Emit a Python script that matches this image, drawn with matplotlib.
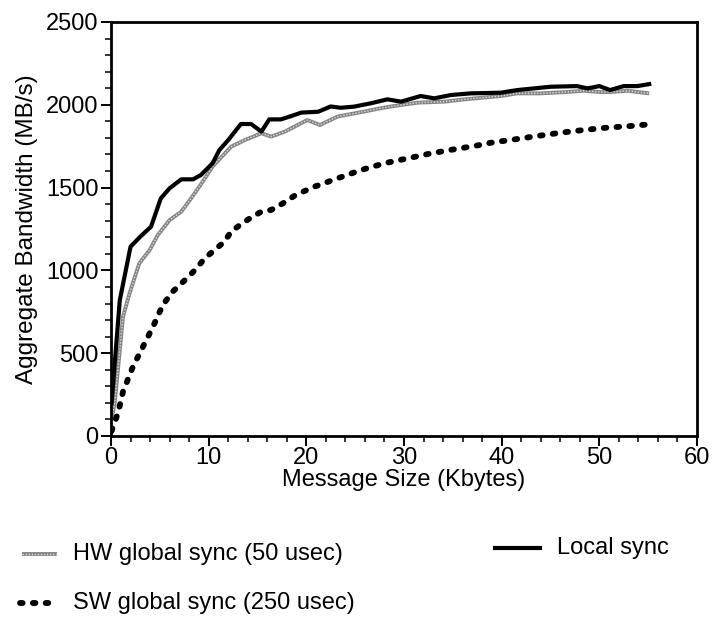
import matplotlib
matplotlib.use("Agg")
import matplotlib.pyplot as plt
from matplotlib.lines import Line2D
from matplotlib.ticker import MultipleLocator

plt.rcParams['font.family'] = ['Liberation Sans', 'DejaVu Sans']

# ---- data ----
x_local = [0.06, 0.9, 2.0, 3.0, 4.1, 5.1, 6.0, 7.2, 8.4, 9.2, 10.4, 11.1, 12.0, 13.3,
           14.35, 15.4, 16.2, 17.4, 18.3, 19.5, 21.2, 22.5, 23.5, 24.9, 26.6, 28.3,
           29.7, 31.7, 33.1, 34.8, 36.8, 39.9, 41.6, 45.0, 47.7, 48.8, 50.0, 51.1,
           52.5, 53.9, 55.1]
y_local = [200, 820, 1143, 1204, 1264, 1435, 1496, 1550, 1550, 1576, 1647, 1727, 1787,
           1884, 1884, 1838, 1912, 1912, 1929, 1953, 1958, 1990, 1982, 1989, 2009, 2033,
           2019, 2053, 2039, 2059, 2069, 2073, 2089, 2109, 2113, 2099, 2113, 2089, 2113,
           2113, 2125]

x_hw = [0.06, 0.38, 1.23, 1.9, 2.9, 3.96, 4.8, 6.0, 7.2, 8.2, 9.4, 10.4, 12.3, 13.7,
        15.4, 16.4, 17.8, 20.1, 21.4, 23.2, 25.9, 27.6, 29.0, 31.4, 34.1, 36.2, 39.9,
        41.6, 43.9, 46.6, 48.4, 50.1, 51.1, 52.9, 55.1]
y_hw = [100, 199, 720, 862, 1043, 1123, 1214, 1304, 1355, 1435, 1536, 1627, 1747, 1787,
        1828, 1808, 1838, 1908, 1878, 1929, 1959, 1979, 1993, 2013, 2019, 2033, 2053,
        2069, 2069, 2077, 2085, 2077, 2077, 2085, 2069]

x_sw = [0.06, 0.2, 0.72, 1.23, 2.25, 3.27, 4.3, 5.3, 6.3, 7.4, 8.6, 9.6, 10.6, 11.6,
        12.3, 13.2, 14.2, 15.4, 16.4, 17.6, 18.9, 20.8, 23.2, 25.6, 28.0, 30.4, 32.8,
        35.1, 37.2, 38.9, 41.3, 43.7, 46.1, 48.4, 50.8, 53.2, 55.1]
y_sw = [30, 56, 138, 268, 419, 539, 660, 791, 871, 932, 1002, 1073, 1123, 1173, 1234,
        1274, 1314, 1355, 1365, 1405, 1455, 1505, 1556, 1606, 1647, 1677, 1707, 1731,
        1751, 1771, 1791, 1812, 1832, 1848, 1862, 1872, 1882]

x_ticks = [0, 10, 20, 30, 40, 50, 60]
y_ticks = [0, 500, 1000, 1500, 2000, 2500]

label_hw = "HW global sync (50 usec)"
label_local = "Local sync"
label_sw = "SW global sync (250 usec)"

W, H = 715, 626
fig = plt.figure(figsize=(W / 100, H / 100), dpi=100)
ax = fig.add_axes([111 / W, 1 - 436 / H, (697 - 111) / W, (436 - 22) / H])

FS = 17

# HW: grey textured line
hw_style = dict(color='#858585', lw=2.8, solid_capstyle='butt')
hw_over = dict(color='#dcdcdc', lw=1.0, linestyle=(0, (1, 1.2)))
ax.plot(x_hw, y_hw, **hw_style)
ax.plot(x_hw, y_hw, **hw_over)
# Local: thick black
local_style = dict(color='black', lw=3.0, solid_joinstyle='round')
ax.plot(x_local, y_local, **local_style)
# SW: black bold dots/dashes
sw_style = dict(color='black', lw=4.2, linestyle=(0, (0.45, 1.75)),
                dash_capstyle='round')
ax.plot(x_sw, y_sw, **sw_style)

ax.set_xlim(0, 60)
ax.set_ylim(0, 2500)
ax.set_xticks(x_ticks)
ax.set_yticks(y_ticks)
ax.xaxis.set_minor_locator(MultipleLocator(2))
ax.yaxis.set_minor_locator(MultipleLocator(100))
ax.tick_params(axis='both', which='major', direction='out', length=7, width=1.4,
               labelsize=FS, pad=2)
ax.tick_params(axis='x', which='major', pad=1)
ax.tick_params(axis='both', which='minor', direction='out', length=4, width=1.1)
ax.tick_params(top=False, right=False, which='both')
for s in ax.spines.values():
    s.set_linewidth(2.0)

ax.set_xlabel("Message Size (Kbytes)", fontsize=FS, labelpad=0)
ax.set_ylabel("Aggregate Bandwidth (MB/s)", fontsize=FS + 0.5, labelpad=6)

# ---- manual legend (figure pixel coordinates) ----
def fx(px):
    return px / W

def fy(py):
    return 1 - py / H

def legend_entry(x0, x1, ty, tx, text, styles):
    for st in styles:
        fig.add_artist(Line2D([fx(x0), fx(x1)], [fy(ty), fy(ty)], transform=fig.transFigure, **st))
    fig.text(fx(tx), fy(ty), text, fontsize=FS, va='center', ha='left')

legend_entry(22, 57, 554, 73, label_hw, [hw_style, hw_over])
legend_entry(495, 540, 548, 557, label_local, [local_style])
legend_entry(20, 57, 603, 73, label_sw, [sw_style])

fig.savefig("out.png", dpi=100)
